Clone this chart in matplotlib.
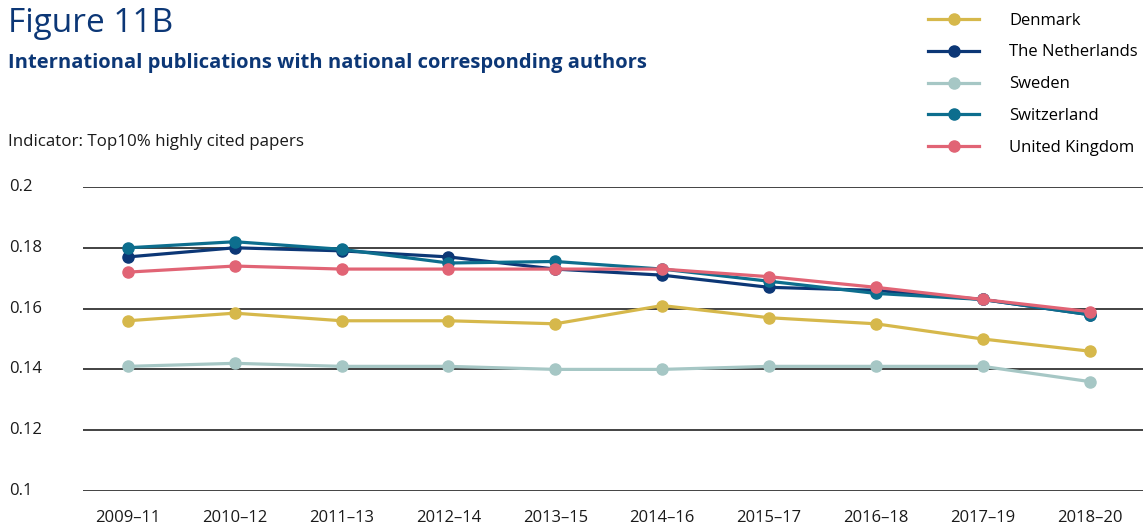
import matplotlib.pyplot as plt
import numpy as np

plt.rcParams['font.family'] = ['Open Sans', 'DejaVu Sans']

periods = ['2009–11', '2010–12', '2011–13', '2012–14', '2013–15',
           '2014–16', '2015–17', '2016–18', '2017–19', '2018–20']

denmark = [0.156, 0.1585, 0.156, 0.156, 0.155, 0.161, 0.157, 0.155, 0.150, 0.146]
netherlands = [0.177, 0.180, 0.179, 0.177, 0.173, 0.171, 0.167, 0.166, 0.163, 0.158]
sweden = [0.141, 0.142, 0.141, 0.141, 0.140, 0.140, 0.141, 0.141, 0.141, 0.136]
switzerland = [0.180, 0.182, 0.1795, 0.175, 0.1755, 0.173, 0.169, 0.165, 0.163, 0.158]
uk = [0.172, 0.174, 0.173, 0.173, 0.173, 0.173, 0.1705, 0.167, 0.163, 0.159]

series = [
    ('Denmark', denmark, '#d6b84b'),
    ('The Netherlands', netherlands, '#0c3776'),
    ('Sweden', sweden, '#a6c7c5'),
    ('Switzerland', switzerland, '#0d6e8e'),
    ('United Kingdom', uk, '#e16475'),
]
yticks = [0.1, 0.12, 0.14, 0.16, 0.18, 0.2]
ytick_labels = ['0.1', '0.12', '0.14', '0.16', '0.18', '0.2']

fig = plt.figure(figsize=(11.47, 5.29), dpi=100)
ax = fig.add_axes([83 / 1147, 1 - 491 / 529, 1060 / 1147, 304 / 529])

x = np.arange(len(periods))
for name, vals, col in series:
    ax.plot(x, vals, color=col, lw=2.3, marker='o', ms=8, label=name, zorder=3)

ax.set_xlim(-0.42, 9.5)
ax.set_ylim(0.1, 0.2)
for yv in yticks:
    ax.axhline(yv, color='#222222', lw=1.2, zorder=1)

ax.set_yticks([])
ax.set_xticks(x)
ax.set_xticklabels(periods, fontsize=12, color='#1a1a1a')
ax.tick_params(axis='x', length=0, pad=14)
for s in ax.spines.values():
    s.set_visible(False)

# y labels sit at the far left of the figure
for yv, lab in zip(yticks, ytick_labels):
    ax.annotate(lab, xy=(0, yv), xycoords=('figure fraction', 'data'),
                xytext=(9, 0), textcoords='offset pixels',
                ha='left', va='center', fontsize=12, color='#1a1a1a')

fig.text(8 / 1147, 1 - 24 / 529, 'Figure 11B', fontsize=24, color='#0c3776',
         ha='left', va='center')
fig.text(8 / 1147, 1 - 63 / 529, 'International publications with national corresponding authors',
         fontsize=14.5, fontweight='bold', color='#0c3776', ha='left', va='center')
fig.text(8 / 1147, 1 - 142 / 529, 'Indicator: Top10% highly cited papers',
         fontsize=12.2, color='#1a1a1a', ha='left', va='center')

fig.legend(loc='upper left', bbox_to_anchor=(921 / 1147, 1 - 6 / 529), frameon=False,
           fontsize=12, handlelength=3.1, handletextpad=1.8, labelspacing=0.95,
           borderaxespad=0)

fig.savefig('out.png', dpi=100)
